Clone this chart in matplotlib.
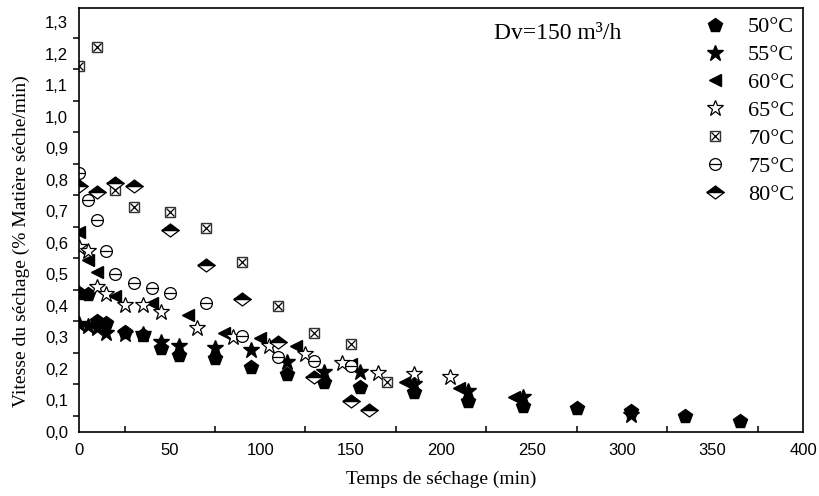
import matplotlib.pyplot as plt
from matplotlib.ticker import MultipleLocator, FuncFormatter
from matplotlib.legend_handler import HandlerTuple

# drying rate vs time, one series per air temperature
t50 = [0, 5, 10, 15, 25, 35, 45, 55, 75, 95, 115, 135, 155, 185, 215, 245, 275, 305, 335, 365]
v50 = [0.44, 0.436, 0.352, 0.344, 0.316, 0.307, 0.267, 0.243, 0.233, 0.206, 0.183, 0.159,
       0.141, 0.125, 0.098, 0.082, 0.076, 0.067, 0.051, 0.034]

t55 = [0, 5, 10, 15, 25, 35, 45, 55, 75, 95, 115, 135, 155, 185, 215, 245, 305]
v55 = [0.342, 0.337, 0.328, 0.312, 0.309, 0.309, 0.286, 0.273, 0.267, 0.259, 0.222, 0.19,
       0.188, 0.15, 0.129, 0.109, 0.053]

t60 = [0, 5, 10, 20, 40, 60, 80, 100, 120, 150, 180, 210, 240]
v60 = [0.635, 0.545, 0.506, 0.43, 0.408, 0.37, 0.312, 0.298, 0.272, 0.215, 0.157, 0.138, 0.111]

t65 = [0, 5, 10, 15, 25, 35, 45, 65, 85, 105, 125, 145, 165, 185, 205]
v65 = [0.587, 0.573, 0.46, 0.436, 0.402, 0.402, 0.379, 0.33, 0.30, 0.273, 0.246, 0.217,
       0.187, 0.182, 0.175]

t70 = [0, 10, 20, 30, 50, 70, 90, 110, 130, 150, 170]
v70 = [1.16, 1.22, 0.767, 0.714, 0.697, 0.646, 0.54, 0.40, 0.314, 0.278, 0.159]

t75 = [0, 5, 10, 15, 20, 30, 40, 50, 70, 90, 110, 130, 150]
v75 = [0.822, 0.737, 0.672, 0.574, 0.50, 0.473, 0.457, 0.44, 0.408, 0.305, 0.238, 0.224, 0.21]

t80 = [0, 10, 20, 30, 50, 70, 90, 110, 130, 150, 160]
v80 = [0.78, 0.762, 0.79, 0.78, 0.64, 0.53, 0.42, 0.286, 0.175, 0.097, 0.069]

labels = ['50°C', '55°C', '60°C', '65°C', '70°C', '75°C', '80°C']

plt.rcParams['font.family'] = ['Liberation Serif', 'DejaVu Serif']

fig = plt.figure(figsize=(8.19, 4.96), dpi=100)
ax = fig.add_axes([0.0968, 0.1296, 0.9805 - 0.0968, 0.9839 - 0.1296])

# flattened diamond halves: black top, white bottom
top_half = [(-1, 0), (0, 0.75), (1, 0), (-1, 0)]
bot_half = [(-1, 0), (1, 0), (0, -0.75), (-1, 0)]

styles = [
    [dict(marker='p', ms=10, mfc='black', mec='black')],
    [dict(marker='*', ms=12, mfc='black', mec='black')],
    [dict(marker='<', ms=9, mfc='black', mec='black')],
    [dict(marker='*', ms=12, mfc='white', mec='black', mew=0.9)],
    [dict(marker='s', ms=7.5, mfc='white', mec='#333333', mew=1.0),
     dict(marker='x', ms=5.5, mfc='none', mec='black', mew=0.9)],
    [dict(marker='o', ms=8.5, mfc='white', mec='black', mew=0.9),
     dict(marker='_', ms=8.5, mfc='none', mec='black', mew=0.9)],
    [dict(marker=bot_half, ms=12.5, mfc='white', mec='black', mew=0.9),
     dict(marker=top_half, ms=12.5, mfc='black', mec='black', mew=0.9)],
]
series = [(t50, v50), (t55, v55), (t60, v60), (t65, v65), (t70, v70), (t75, v75), (t80, v80)]

handles = []
for (t, v), st in zip(series, styles):
    parts = []
    for s in st:
        line, = ax.plot(t, v, linestyle='none', **s)
        parts.append(line)
    handles.append(tuple(parts))

ax.legend(handles, labels, loc='upper right', bbox_to_anchor=(1.0, 1.0), frameon=False,
          fontsize=16, handler_map={tuple: HandlerTuple(ndivide=1, pad=0)},
          handlelength=1.2, handletextpad=0.9, labelspacing=0.33,
          borderaxespad=0.0, borderpad=0.4)

ax.text(0.573, 0.965, 'Dv=150 m³/h', transform=ax.transAxes, fontsize=17,
        ha='left', va='top')

ax.set_xlim(0, 400)
ax.set_ylim(0, 1.345)

ax.xaxis.set_major_locator(MultipleLocator(50))
ax.xaxis.set_minor_locator(MultipleLocator(25))
ax.yaxis.set_major_locator(MultipleLocator(0.1))
ax.yaxis.set_minor_locator(MultipleLocator(0.05))
ax.yaxis.set_major_formatter(FuncFormatter(lambda v, p: f'{v:.1f}'.replace('.', ',')))

ax.tick_params(axis='both', which='major', length=0, pad=8)
ax.tick_params(axis='x', which='minor', direction='in', length=4, width=1.1)
ax.tick_params(axis='y', which='minor', direction='out', length=4, width=1.1)
for lab in ax.get_xticklabels() + ax.get_yticklabels():
    lab.set_fontfamily('Liberation Sans')
    lab.set_fontsize(12)

for sp in ax.spines.values():
    sp.set_linewidth(1.2)

ax.set_xlabel('Temps de séchage (min)', fontsize=14)
ax.set_ylabel('Vitesse du séchage (% Matière séche/min)', fontsize=14)
ax.xaxis.set_label_coords(0.5, -0.092)
ax.yaxis.set_label_coords(-0.068, 0.45)

fig.savefig('out.png', dpi=100)
